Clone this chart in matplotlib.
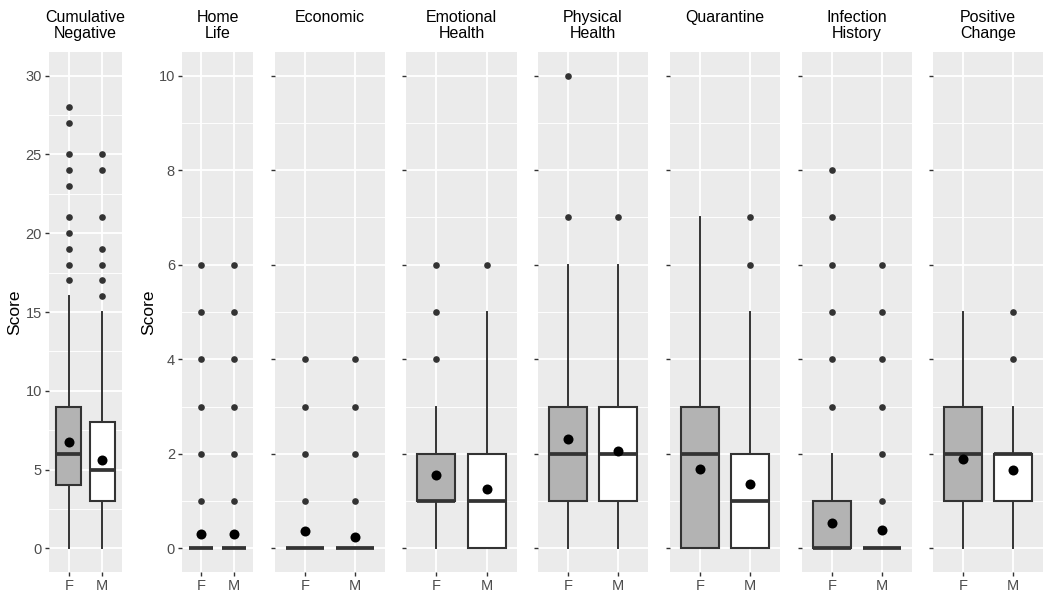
## boxplots of scores by sex, one panel per domain (ggplot-like look)
import numpy as np
import matplotlib
matplotlib.use("Agg")
import matplotlib.pyplot as plt

plt.rcParams['font.family'] = ['Liberation Sans', 'DejaVu Sans']

## data
titles = ["Cumulative\nNegative", "Home\nLife", "Economic", "Emotional\nHealth",
          "Physical\nHealth", "Quarantine", "Infection\nHistory", "Positive\nChange"]
groups = ["F", "M"]

## female
q1_f   = [4, 0, 0, 1, 1, 0, 0, 1]
med_f  = [6, 0, 0, 1, 2, 2, 0, 2]
q3_f   = [9, 0, 0, 2, 3, 3, 1, 3]
lo_f   = [0, 0, 0, 0, 0, 0, 0, 0]
hi_f   = [16, 0, 0, 3, 6, 7, 2, 5]
mean_f = [6.75, 0.30, 0.37, 1.56, 2.32, 1.67, 0.53, 1.90]
out_f  = [[17, 18, 19, 20, 21, 23, 24, 25, 27, 28],
          [1, 2, 3, 4, 5, 6],
          [1, 2, 3, 4],
          [4, 5, 6],
          [7, 10],
          [],
          [3, 4, 5, 6, 7, 8],
          []]

## male
q1_m   = [3, 0, 0, 0, 1, 0, 0, 1]
med_m  = [5, 0, 0, 1, 2, 1, 0, 2]
q3_m   = [8, 0, 0, 2, 3, 2, 0, 2]
lo_m   = [0, 0, 0, 0, 0, 0, 0, 0]
hi_m   = [15, 0, 0, 5, 6, 5, 0, 3]
mean_m = [5.60, 0.30, 0.23, 1.25, 2.06, 1.36, 0.38, 1.65]
out_m  = [[16, 17, 18, 19, 21, 24, 25],
          [1, 2, 3, 4, 5, 6],
          [1, 2, 3, 4],
          [6],
          [7],
          [6, 7],
          [1, 2, 3, 4, 5, 6],
          [4, 5]]

fills = ["#B3B3B3", "#FFFFFF"]

## layout in pixels
W, H = 1050, 603
panel_x = [(49, 122), (182, 253), (275, 385), (406, 517),
           (538, 648), (670, 780), (802, 912), (933, 1043)]
top, bot = 52, 572
score_x = [15, 149]

fig = plt.figure(figsize=(W/100, H/100), dpi=100)

dark = "#333333"
for k in range(len(titles)):
    x0, x1 = panel_x[k]
    ax = fig.add_axes([x0/W, 1-bot/H, (x1-x0)/W, (bot-top)/H])
    ax.set_facecolor("#EBEBEB")
    for s in ax.spines.values():
        s.set_visible(False)

    stats = [
        dict(q1=q1_f[k], med=med_f[k], q3=q3_f[k], whislo=lo_f[k], whishi=hi_f[k],
             mean=mean_f[k], fliers=out_f[k]),
        dict(q1=q1_m[k], med=med_m[k], q3=q3_m[k], whislo=lo_m[k], whishi=hi_m[k],
             mean=mean_m[k], fliers=out_m[k]),
    ]
    bp = ax.bxp(stats, positions=[1, 2], widths=0.75, patch_artist=True,
                showmeans=True, showcaps=False, showfliers=True,
                boxprops=dict(edgecolor=dark, linewidth=1.5),
                whiskerprops=dict(color=dark, linewidth=1.4),
                medianprops=dict(color=dark, linewidth=2.7, solid_capstyle='butt'),
                flierprops=dict(marker='o', markerfacecolor=dark, markeredgecolor='none',
                                markersize=4.8),
                meanprops=dict(marker='o', markerfacecolor='black', markeredgecolor='none',
                               markersize=7.2))
    for patch, c in zip(bp['boxes'], fills):
        patch.set_facecolor(c)
    for m in bp['means']:
        m.set_zorder(5)

    ax.set_xlim(0.4, 2.6)
    ax.set_xticks([1, 2])
    ax.set_xticklabels(groups)
    if k == 0:
        ax.set_ylim(-1.5, 31.5)
        ax.set_yticks(np.arange(0, 31, 5))
        ax.set_yticks(np.arange(2.5, 30, 5), minor=True)
    else:
        ax.set_ylim(-0.5, 10.5)
        ax.set_yticks(np.arange(0, 11, 2))
        ax.set_yticks(np.arange(1, 10, 2), minor=True)
    if k > 1:
        ax.set_yticklabels([])

    ax.grid(True, which='major', color='white', linewidth=1.3)
    ax.grid(True, which='minor', axis='y', color='white', linewidth=0.65)
    ax.set_axisbelow(True)
    ax.tick_params(axis='both', which='major', length=2.6, width=1.0, color=dark,
                   labelcolor="#4D4D4D", labelsize=10.5, pad=2.5)
    ax.tick_params(axis='y', which='minor', length=0)

    if k < 2:
        fig.text(score_x[k]/W, 1-(top+bot)/2/H, "Score", rotation=90,
                 ha='center', va='center', fontsize=12.5, color='black')

    fig.text((x0+x1)/2/W, 1-10/H, titles[k], ha='center', va='top',
             fontsize=11.5, linespacing=1.1)

fig.savefig("out.png", dpi=100)
